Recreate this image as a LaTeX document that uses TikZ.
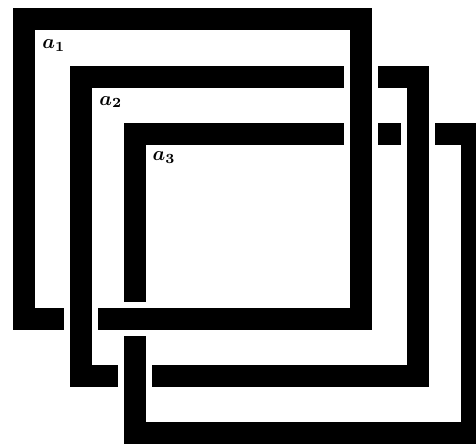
\documentclass[tikz,border=0pt]{standalone}
\usepackage{amsmath,amssymb,bm}
\usepackage{tikz}

\begin{document}
\begin{tikzpicture}[x=0.5pt,y=-0.5pt,
  frame/.style={line width=11pt,line cap=butt,line join=miter},
  over/.style={frame,preaction={draw=white,line width=17pt}},
  lbl/.style={anchor=base west,inner sep=0pt}]
\useasboundingbox (0,0) rectangle (476,444);
\begin{scope}
\clip (0,0) rectangle (476,444);
% three frames
\draw[frame] (24,19.5) rectangle (361,319);
\draw[frame] (80.5,77) rectangle (417.7,376);
\draw[frame] (135,134) rectangle (471.7,433);
% crossings
\draw[over] (361,64) -- (361,90);
\draw[over] (361,121) -- (361,147);
\draw[over] (417.7,121) -- (417.7,147);
\draw[over] (80.5,306) -- (80.5,332);
\draw[over] (122,319) -- (148,319);
\draw[over] (135,363) -- (135,389);
\end{scope}
% labels
\node[lbl] (a1) at (42,48.5) {$\bm{a}_{\bm{1}}$};
\node[lbl] (a2) at (99,105) {$\bm{a}_{\bm{2}}$};
\node[lbl] (a3) at (152.3,160.7) {$\bm{a}_{\bm{3}}$};
\end{tikzpicture}
\end{document}
